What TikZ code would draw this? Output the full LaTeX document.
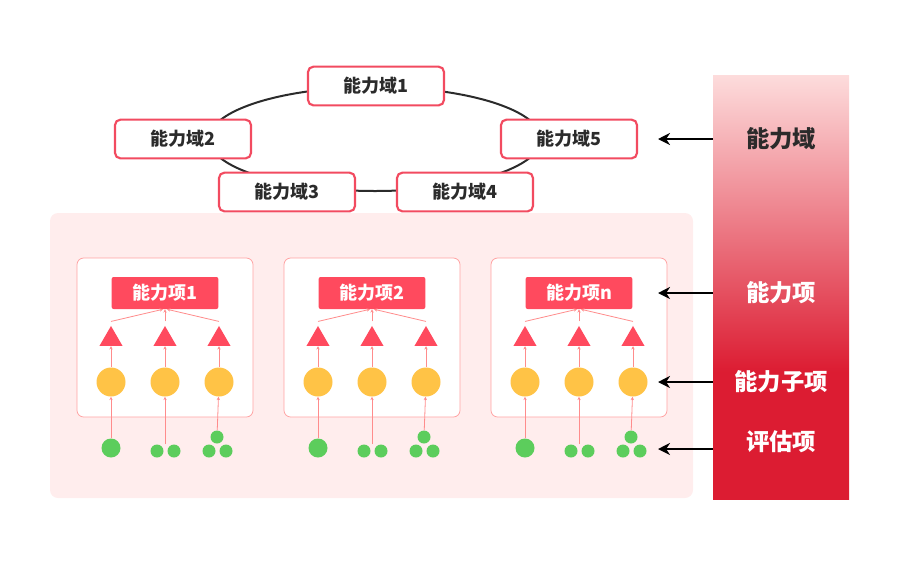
\documentclass[tikz,border=0pt]{standalone}
\usepackage{fontspec}
\setmainfont{Noto Sans CJK SC}
\usetikzlibrary{positioning,arrows.meta,shapes.geometric,calc}
\definecolor{boxred}{HTML}{F24B60}
\definecolor{labred}{HTML}{FF4A5E}
\definecolor{panelbg}{HTML}{FFEDED}
\definecolor{panelline}{HTML}{FFA3A3}
\definecolor{linkred}{HTML}{FF8C8C}
\definecolor{subyellow}{HTML}{FFC346}
\definecolor{evalgreen}{HTML}{5CCD5C}
\definecolor{barpink}{HTML}{FDDCDC}
\definecolor{barred}{HTML}{DC1C32}
\definecolor{textdark}{HTML}{2B2B2B}
\pgfdeclareverticalshading{barshade}{100bp}{color(0bp)=(barred); color(25bp)=(barred); color(40bp)=(barred); color(75bp)=(barpink); color(100bp)=(barpink)}
\tikzset{
  domainbox/.style={draw=boxred,line width=1.6pt,fill=white,rounded corners=4pt,
    minimum width=102pt,minimum height=29pt,inner sep=0pt,text=textdark,
    font=\fontsize{13.5}{15}\selectfont\bfseries},
  itembox/.style={fill=labred,rounded corners=1.5pt,minimum width=80pt,minimum height=24pt,
    inner sep=0pt,text=white,font=\fontsize{13.5}{15}\selectfont\bfseries},
  tri/.style={regular polygon,regular polygon sides=3,fill=labred,inner sep=0pt,minimum size=20pt},
  subitem/.style={circle,fill=subyellow,inner sep=0pt,minimum size=21.75pt},
  bigdot/.style={circle,fill=evalgreen,inner sep=0pt,minimum size=14.25pt},
  smalldot/.style={circle,fill=evalgreen,inner sep=0pt,minimum size=9.75pt},
  link/.style={draw=linkred,line width=0.6pt,-{Stealth[length=2.5pt,width=2.5pt]}},
  sidelabel/.style={font=\fontsize{17.5}{20}\selectfont\bfseries,text=white},
  sidearrow/.style={draw=black,line width=1.8pt,-{Stealth[length=9pt,width=9pt]}}
}
\begin{document}
\begin{tikzpicture}[x=0.75pt,y=-0.75pt]
  \useasboundingbox (0,0) rectangle (900,565);
  % ring of domains
  \draw[textdark,line width=1.5pt] (375,139) ellipse (166 and 52);
  \node[domainbox] (d1) at (376,86) {能力域1};
  \node[domainbox] (d2) at (183,139) {能力域2};
  \node[domainbox] (d3) at (287,192) {能力域3};
  \node[domainbox] (d4) at (465,192) {能力域4};
  \node[domainbox] (d5) at (569,139) {能力域5};
  % background panel
  \fill[panelbg,rounded corners=6pt] (50,213) rectangle (693,498);
  % three items
  \foreach \k/\name [count=\i] in {0/1,207/2,414/n}{
    \begin{scope}[xshift=\k*0.75pt]
      \draw[panelline,line width=0.6pt,fill=white,rounded corners=5pt] (77,258) rectangle (253,417);
      \node[itembox] (item\i) at (165,293) {能力项\name};
      \node[tri] (ta\i) at (111,339.3) {};
      \node[tri] (tb\i) at (165,339.3) {};
      \node[tri] (tc\i) at (219,339.3) {};
      \node[subitem] (sa\i) at (111,382) {};
      \node[subitem] (sb\i) at (165,382) {};
      \node[subitem] (sc\i) at (219,382) {};
      \node[bigdot] (ea\i) at (111,448) {};
      \node[smalldot] (eb\i) at (157,451) {};
      \node[smalldot] (ebb\i) at (174,451) {};
      \coordinate (ebtop\i) at (165,444);
      \node[smalldot] (ec\i) at (217,437) {};
      \node[smalldot] (ecl\i) at (209,451) {};
      \node[smalldot] (ecr\i) at (226,451) {};
      % links
      \draw[link] (ea\i) -- (sa\i);
      \draw[link] (ebtop\i) -- (sb\i);
      \draw[link] (ec\i) -- (sc\i);
      \draw[link] (sa\i) -- (ta\i.south);
      \draw[link] (sb\i) -- (tb\i.south);
      \draw[link] (sc\i) -- (tc\i.south);
      \draw[link] ([yshift=3pt]ta\i.north) -- ([xshift=-1.5pt]item\i.south);
      \draw[link] ([yshift=3pt]tb\i.north) -- (item\i.south);
      \draw[link] ([yshift=3pt]tc\i.north) -- ([xshift=1.5pt]item\i.south);
    \end{scope}
  }
  % side bar
  \node[shading=barshade,minimum width=102pt,minimum height=318pt,inner sep=0pt] (bar) at (781,287) {};
  \node[sidelabel,text=textdark] (lyu) at (781,139) {能力域};
  \node[sidelabel] (lxiang) at (781,293) {能力项};
  \node[sidelabel] (lzi) at (781,382) {能力子项};
  \node[sidelabel] (lping) at (781,442) {评估项};
  \coordinate (pyu) at (658,139);
  \coordinate (pxiang) at (658,293);
  \coordinate (pzi) at (658,382);
  \coordinate (pping) at (658,449);
  \draw[sidearrow] (bar.west |- lyu) -- (pyu);
  \draw[sidearrow] (bar.west |- lxiang) -- (pxiang);
  \draw[sidearrow] (bar.west |- lzi) -- (pzi);
  \draw[sidearrow] (bar.west |- pping) -- (pping);
\end{tikzpicture}
\end{document}
